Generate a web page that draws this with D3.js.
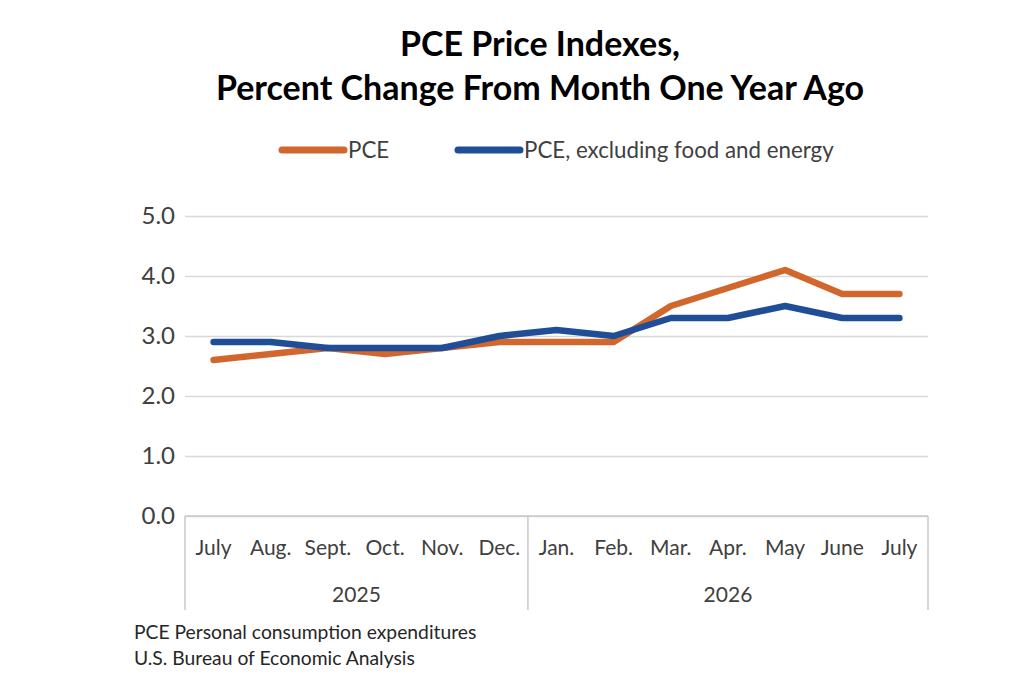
<!DOCTYPE html>
<html>
<head>
<meta charset="utf-8">
<script src="https://cdn.jsdelivr.net/npm/d3@7"></script>
<style>
  body { margin: 0; background: #fff; }
  text { font-family: Lato, "Open Sans", sans-serif; }
</style>
</head>
<body>
<div id="chart"></div>
<script>
var months = ['July', 'Aug.', 'Sept.', 'Oct.', 'Nov.', 'Dec.', 'Jan.', 'Feb.', 'Mar.', 'Apr.', 'May', 'June', 'July'];
var years = [
    { label: '2025', from: 0, to: 6 },
    { label: '2026', from: 6, to: 13 }
];
var pce = [2.6, 2.7, 2.8, 2.7, 2.8, 2.9, 2.9, 2.9, 3.5, 3.8, 4.1, 3.7, 3.7];
var pceCore = [2.9, 2.9, 2.8, 2.8, 2.8, 3.0, 3.1, 3.0, 3.3, 3.3, 3.5, 3.3, 3.3];
var yTicks = [0, 1, 2, 3, 4, 5];

var series = [
    { name: 'PCE', values: pce, color: '#D2672E' },
    { name: 'PCE, excluding food and energy', values: pceCore, color: '#1F4E96' }
];

var width = 1024;
var height = 683;
var plotLeft = 185;
var plotRight = 928;
var plotTop = 216;
var plotBottom = 516;

var svg = d3.select('#chart').append('svg')
    .attr('width', width)
    .attr('height', height);

var x = d3.scaleBand()
    .domain(d3.range(months.length))
    .range([plotLeft, plotRight]);

var y = d3.scaleLinear()
    .domain([0, 5])
    .range([plotBottom, plotTop]);

// title
svg.append('text')
    .attr('x', 540).attr('y', 56)
    .attr('text-anchor', 'middle')
    .style('font-size', '34px').style('font-weight', 'bold')
    .text('PCE Price Indexes,');
svg.append('text')
    .attr('x', 540).attr('y', 100)
    .attr('text-anchor', 'middle')
    .style('font-size', '34px').style('font-weight', 'bold')
    .text('Percent Change From Month One Year Ago');

// legend
var legendX = [280, 456];
series.forEach(function (s, i) {
    var g = svg.append('g').attr('transform', 'translate(' + legendX[i] + ',150)');
    g.append('line')
        .attr('x1', 2).attr('x2', 64)
        .attr('stroke', s.color).attr('stroke-width', 7)
        .attr('stroke-linecap', 'round');
    g.append('text')
        .attr('x', 68).attr('y', 8)
        .style('font-size', '22.3px').style('fill', '#404040')
        .text(s.name);
});

// gridlines + y labels
var yAxis = d3.axisLeft(y)
    .tickValues(yTicks)
    .tickSize(-(plotRight - plotLeft))
    .tickFormat(d3.format('.1f'));

var gy = svg.append('g')
    .attr('transform', 'translate(' + plotLeft + ',0)')
    .call(yAxis);
gy.select('.domain').remove();
gy.selectAll('.tick line').attr('stroke', '#d9d9d9').attr('stroke-width', 1.5);
gy.selectAll('.tick text')
    .attr('x', -10)
    .style('font-size', '24px')
    .style('fill', '#404040')
    .style('font-family', 'Lato, sans-serif');

// category axis frame
var axisColor = '#c8c8c8';
svg.append('line')
    .attr('x1', plotLeft).attr('x2', plotRight)
    .attr('y1', plotBottom).attr('y2', plotBottom)
    .attr('stroke', axisColor).attr('stroke-width', 1.5);

var dividers = [0, 6, 13];
svg.selectAll('line.divider').data(dividers).enter().append('line')
    .attr('class', 'divider')
    .attr('x1', function (d) { return d === months.length ? plotRight : x(d); })
    .attr('x2', function (d) { return d === months.length ? plotRight : x(d); })
    .attr('y1', plotBottom).attr('y2', 610)
    .attr('stroke', axisColor).attr('stroke-width', 1.5);

svg.selectAll('text.month').data(months).enter().append('text')
    .attr('class', 'month')
    .attr('x', function (d, i) { return x(i) + x.bandwidth() / 2; })
    .attr('y', 555)
    .attr('text-anchor', 'middle')
    .style('font-size', '21px').style('fill', '#404040')
    .text(function (d) { return d; });

svg.selectAll('text.year').data(years).enter().append('text')
    .attr('class', 'year')
    .attr('x', function (d) {
        var x0 = x(d.from);
        var x1 = d.to === months.length ? plotRight : x(d.to);
        return (x0 + x1) / 2;
    })
    .attr('y', 602)
    .attr('text-anchor', 'middle')
    .style('font-size', '21px').style('fill', '#404040')
    .text(function (d) { return d.label; });

// lines
var line = d3.line()
    .x(function (d, i) { return x(i) + x.bandwidth() / 2; })
    .y(function (d) { return y(d); });

svg.selectAll('path.series').data(series).enter().append('path')
    .attr('class', 'series')
    .attr('d', function (d) { return line(d.values); })
    .attr('fill', 'none')
    .attr('stroke', function (d) { return d.color; })
    .attr('stroke-width', 6.5)
    .attr('stroke-linejoin', 'round')
    .attr('stroke-linecap', 'round');

// notes
var notes = ['PCE Personal consumption expenditures', 'U.S. Bureau of Economic Analysis'];
svg.selectAll('text.note').data(notes).enter().append('text')
    .attr('class', 'note')
    .attr('x', 134)
    .attr('y', function (d, i) { return 639 + i * 26; })
    .style('font-size', '19.3px').style('fill', '#262626')
    .text(function (d) { return d; });
</script>
</body>
</html>
